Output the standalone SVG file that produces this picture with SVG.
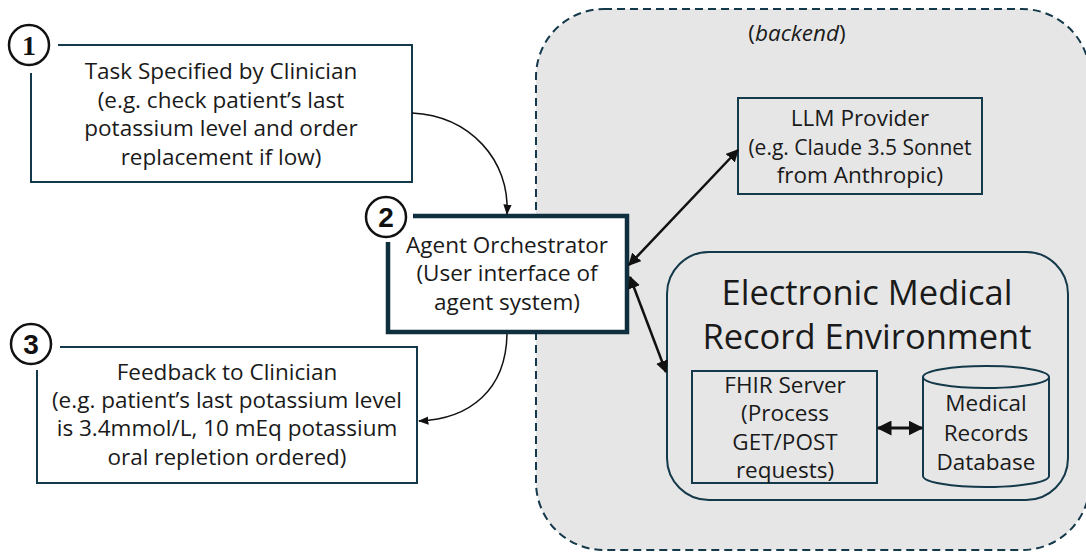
<svg xmlns="http://www.w3.org/2000/svg" width="1086" height="553" viewBox="0 0 1086 553">
  <style>
    .lbl { font-family: "Open Sans", "Liberation Sans", sans-serif; font-size: 22.5px; fill: #1a1a1a; text-anchor: middle; }
    .big { font-size: 34.5px; }
    .snug { font-size: 21px; }
    .edge { fill: none; stroke: #14394a; stroke-width: 2; }
    .num { fill: none; stroke: #111111; stroke-width: 2.5; }
    .digit { font-family: "Liberation Sans", sans-serif; font-weight: bold; font-size: 28px; fill: #111111; text-anchor: middle; }
    .serif { font-family: "Liberation Serif", serif; }
    .wire { fill: none; stroke: #111111; }
  </style>
  <defs>
    <marker id="head" viewBox="0 0 10 10" refX="9" refY="5" markerWidth="5" markerHeight="5" markerUnits="strokeWidth" orient="auto-start-reverse">
      <path d="M0,0 L10,5 L0,10 Z" fill="#111111"/>
    </marker>
    <marker id="headThin" viewBox="0 0 10 10" refX="9" refY="5" markerWidth="7" markerHeight="7" markerUnits="strokeWidth" orient="auto-start-reverse">
      <path d="M0,1 L10,5 L0,9 Z" fill="#111111"/>
    </marker>
  </defs>

  <!-- backend region -->
  <g id="backend">
    <rect x="536" y="9" width="554" height="541" rx="68" fill="#e6e6e6" stroke="#14394a" stroke-width="2" stroke-dasharray="8 5"/>
    <text class="lbl" x="797" y="41">(<tspan font-style="italic">backend</tspan>)</text>
  </g>

  <!-- step 1: task -->
  <g id="task">
    <rect x="31" y="45" width="381" height="137" fill="#ffffff"/>
    <path class="edge" d="M58,45 H412 V182 H31 V73"/>
    <circle class="num" cx="29" cy="45" r="20"/>
    <text class="digit serif" x="29" y="55">1</text>
    <text class="lbl" x="221" y="79">Task Specified by Clinician</text>
    <text class="lbl" x="221" y="108">(e.g. check patient’s last</text>
    <text class="lbl" x="221" y="136">potassium level and order</text>
    <text class="lbl" x="221" y="165">replacement if low)</text>
  </g>

  <!-- step 2: orchestrator -->
  <g id="orchestrator">
    <rect x="388" y="216" width="239" height="116" fill="#ffffff"/>
    <path d="M413,216 H627 V332 H388 V242" fill="none" stroke="#0f2f3f" stroke-width="4.5"/>
    <circle class="num" cx="386" cy="217" r="20"/>
    <text class="digit" x="386" y="227">2</text>
    <text class="lbl" x="507" y="253">Agent Orchestrator</text>
    <text class="lbl" x="507" y="281">(User interface of</text>
    <text class="lbl" x="507" y="310">agent system)</text>
  </g>

  <!-- step 3: feedback -->
  <g id="feedback">
    <rect x="37" y="347" width="380" height="136" fill="#ffffff"/>
    <path class="edge" d="M60,347 H417 V483 H37 V370"/>
    <circle class="num" cx="31" cy="344" r="20"/>
    <text class="digit" x="31" y="354">3</text>
    <text class="lbl" x="227" y="380">Feedback to Clinician</text>
    <text class="lbl" x="227" y="408">(e.g. patient’s last potassium level</text>
    <text class="lbl" x="227" y="436">is 3.4mmol/L, 10 mEq potassium</text>
    <text class="lbl" x="227" y="465">oral repletion ordered)</text>
  </g>

  <!-- LLM provider -->
  <g id="llm">
    <rect class="edge" x="738" y="98" width="244" height="96"/>
    <text class="lbl" x="860" y="126">LLM Provider</text>
    <text class="lbl snug" x="860" y="155">(e.g. Claude 3.5 Sonnet</text>
    <text class="lbl" x="860" y="183">from Anthropic)</text>
  </g>

  <!-- EMR environment -->
  <g id="emr">
    <rect x="667" y="252" width="401" height="248" rx="42" fill="#e6e6e6" stroke="#14394a" stroke-width="2"/>
    <text class="lbl big" x="867" y="305">Electronic Medical</text>
    <text class="lbl big" x="867" y="349">Record Environment</text>
  </g>

  <g id="fhir">
    <rect class="edge" x="692" y="371" width="185" height="112"/>
    <text class="lbl" x="785" y="393">FHIR Server</text>
    <text class="lbl" x="785" y="421">(Process</text>
    <text class="lbl" x="785" y="450">GET/POST</text>
    <text class="lbl" x="785" y="478">requests)</text>
  </g>

  <g id="database">
    <path d="M923,377 V476 A63,11 0 0 0 1049,476 V377" fill="#e6e6e6" stroke="#14394a" stroke-width="2"/>
    <ellipse cx="986" cy="377" rx="63" ry="11" fill="#e6e6e6" stroke="#14394a" stroke-width="2"/>
    <text class="lbl" x="986" y="411">Medical</text>
    <text class="lbl" x="986" y="441">Records</text>
    <text class="lbl" x="986" y="470">Database</text>
  </g>

  <!-- connectors -->
  <g id="connectors">
    <path class="wire" stroke-width="1.5" d="M412,113 C470,116 510,160 507,214" marker-end="url(#headThin)"/>
    <path class="wire" stroke-width="1.5" d="M507,334 C506,390 470,419 419,421" marker-end="url(#headThin)"/>
    <path class="wire" stroke-width="2.5" d="M629,265 L738,150" marker-start="url(#head)" marker-end="url(#head)"/>
    <path class="wire" stroke-width="2.5" d="M630,277 L666,372" marker-start="url(#head)" marker-end="url(#head)"/>
    <path class="wire" stroke-width="3" d="M878,428 L922,428" marker-start="url(#head)" marker-end="url(#head)"/>
  </g>
</svg>
